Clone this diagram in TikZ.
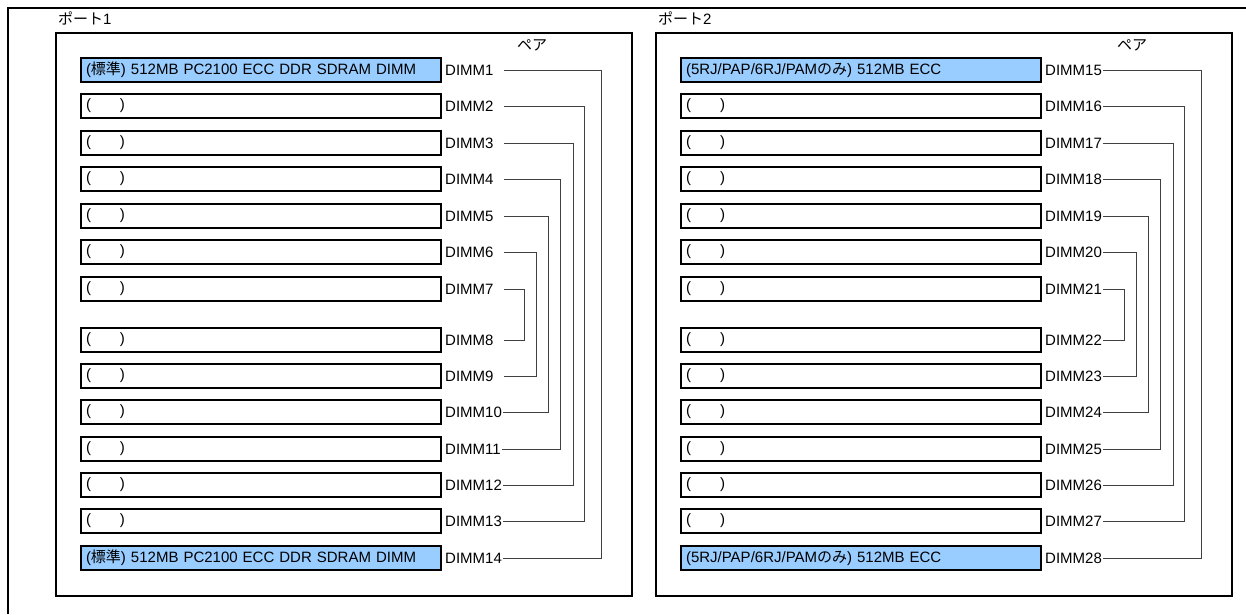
\documentclass[tikz,border=0pt]{standalone}
\usepackage{fontspec}
\setmainfont{Liberation Sans}
\newfontfamily\jp{Noto Sans CJK JP}
\usetikzlibrary{positioning,calc}
\definecolor{dimmblue}{RGB}{153,204,255}
\def\slotwd{350pt}
\tikzset{
  slot/.style    = {draw=black, line width=2pt, anchor=west, text width=\slotwd,
                    align=left, minimum height=24pt, inner xsep=5pt, inner ysep=0pt},
  fullslot/.style = {slot, fill=dimmblue},
  dimmlab/.style = {inner xsep=1pt, inner ysep=0pt},
  frame/.style   = {line width=2pt, draw=black},
  pair/.style    = {line width=0.8pt, draw=black!75},
  title/.style   = {anchor=west, inner sep=0pt}
}

\begin{document}
\begin{tikzpicture}[x=1pt,y=-1pt,font=\fontsize{15}{18}\selectfont]
\useasboundingbox (0,0) rectangle (1246,614);

% --- outer frame (cut off right and bottom) ---
\draw[frame] (1246,8) -- (8,8) -- (8,614);

\foreach \p/\ox/\fulltxt in {1/0/{({\jp 標準}) 512MB PC2100 ECC DDR SDRAM DIMM},
                             2/600/{(5RJ/PAP/6RJ/PAM{\jp のみ}) 512MB ECC}}{
  % --- port panel ---
  \node[title] (port\p) at (58+\ox,18) {{\jp ポート}\p};
  \draw[frame] (56+\ox,33) rectangle (632+\ox,596);
  \node (pr\p) at (532+\ox,45) {\jp ペア};

  % --- slots and DIMM labels ---
  \foreach \i/\y in {1/70,2/106,3/143,4/179,5/216,6/252,7/289,
                     8/340,9/376,10/412,11/449,12/485,13/521,14/558}{
    \pgfmathtruncatemacro{\n}{\i+14*(\p-1)}
    \ifnum\i=1
      \node[fullslot] (s\n) at (80+\ox,\y) {\fulltxt};
    \else
      \ifnum\i=14
        \node[fullslot] (s\n) at (80+\ox,\y) {\fulltxt};
      \else
        \node[slot] (s\n) at (80+\ox,\y) {(\hspace{29pt})};
      \fi
    \fi
    \node[dimmlab, right=2pt of s\n] (d\n) {DIMM\n};
  }

  % --- pair brackets ---
  \foreach \k/\bx in {1/601,2/584,3/573,4/560,5/548,6/536,7/524}{
    \pgfmathtruncatemacro{\a}{\k+14*(\p-1)}
    \pgfmathtruncatemacro{\b}{15-\k+14*(\p-1)}
    \pgfmathsetmacro{\ga}{\a<10 ? 9 : 0}
    \pgfmathsetmacro{\gb}{\b<10 ? 9 : 0}
    \coordinate (b\a) at (\bx+\ox,0);
    \draw[pair] ([xshift=\ga pt]d\a.east) -- (d\a.east -| b\a)
                -- (d\b.east -| b\a) -- ([xshift=\gb pt]d\b.east);
  }
}

\end{tikzpicture}
\end{document}
